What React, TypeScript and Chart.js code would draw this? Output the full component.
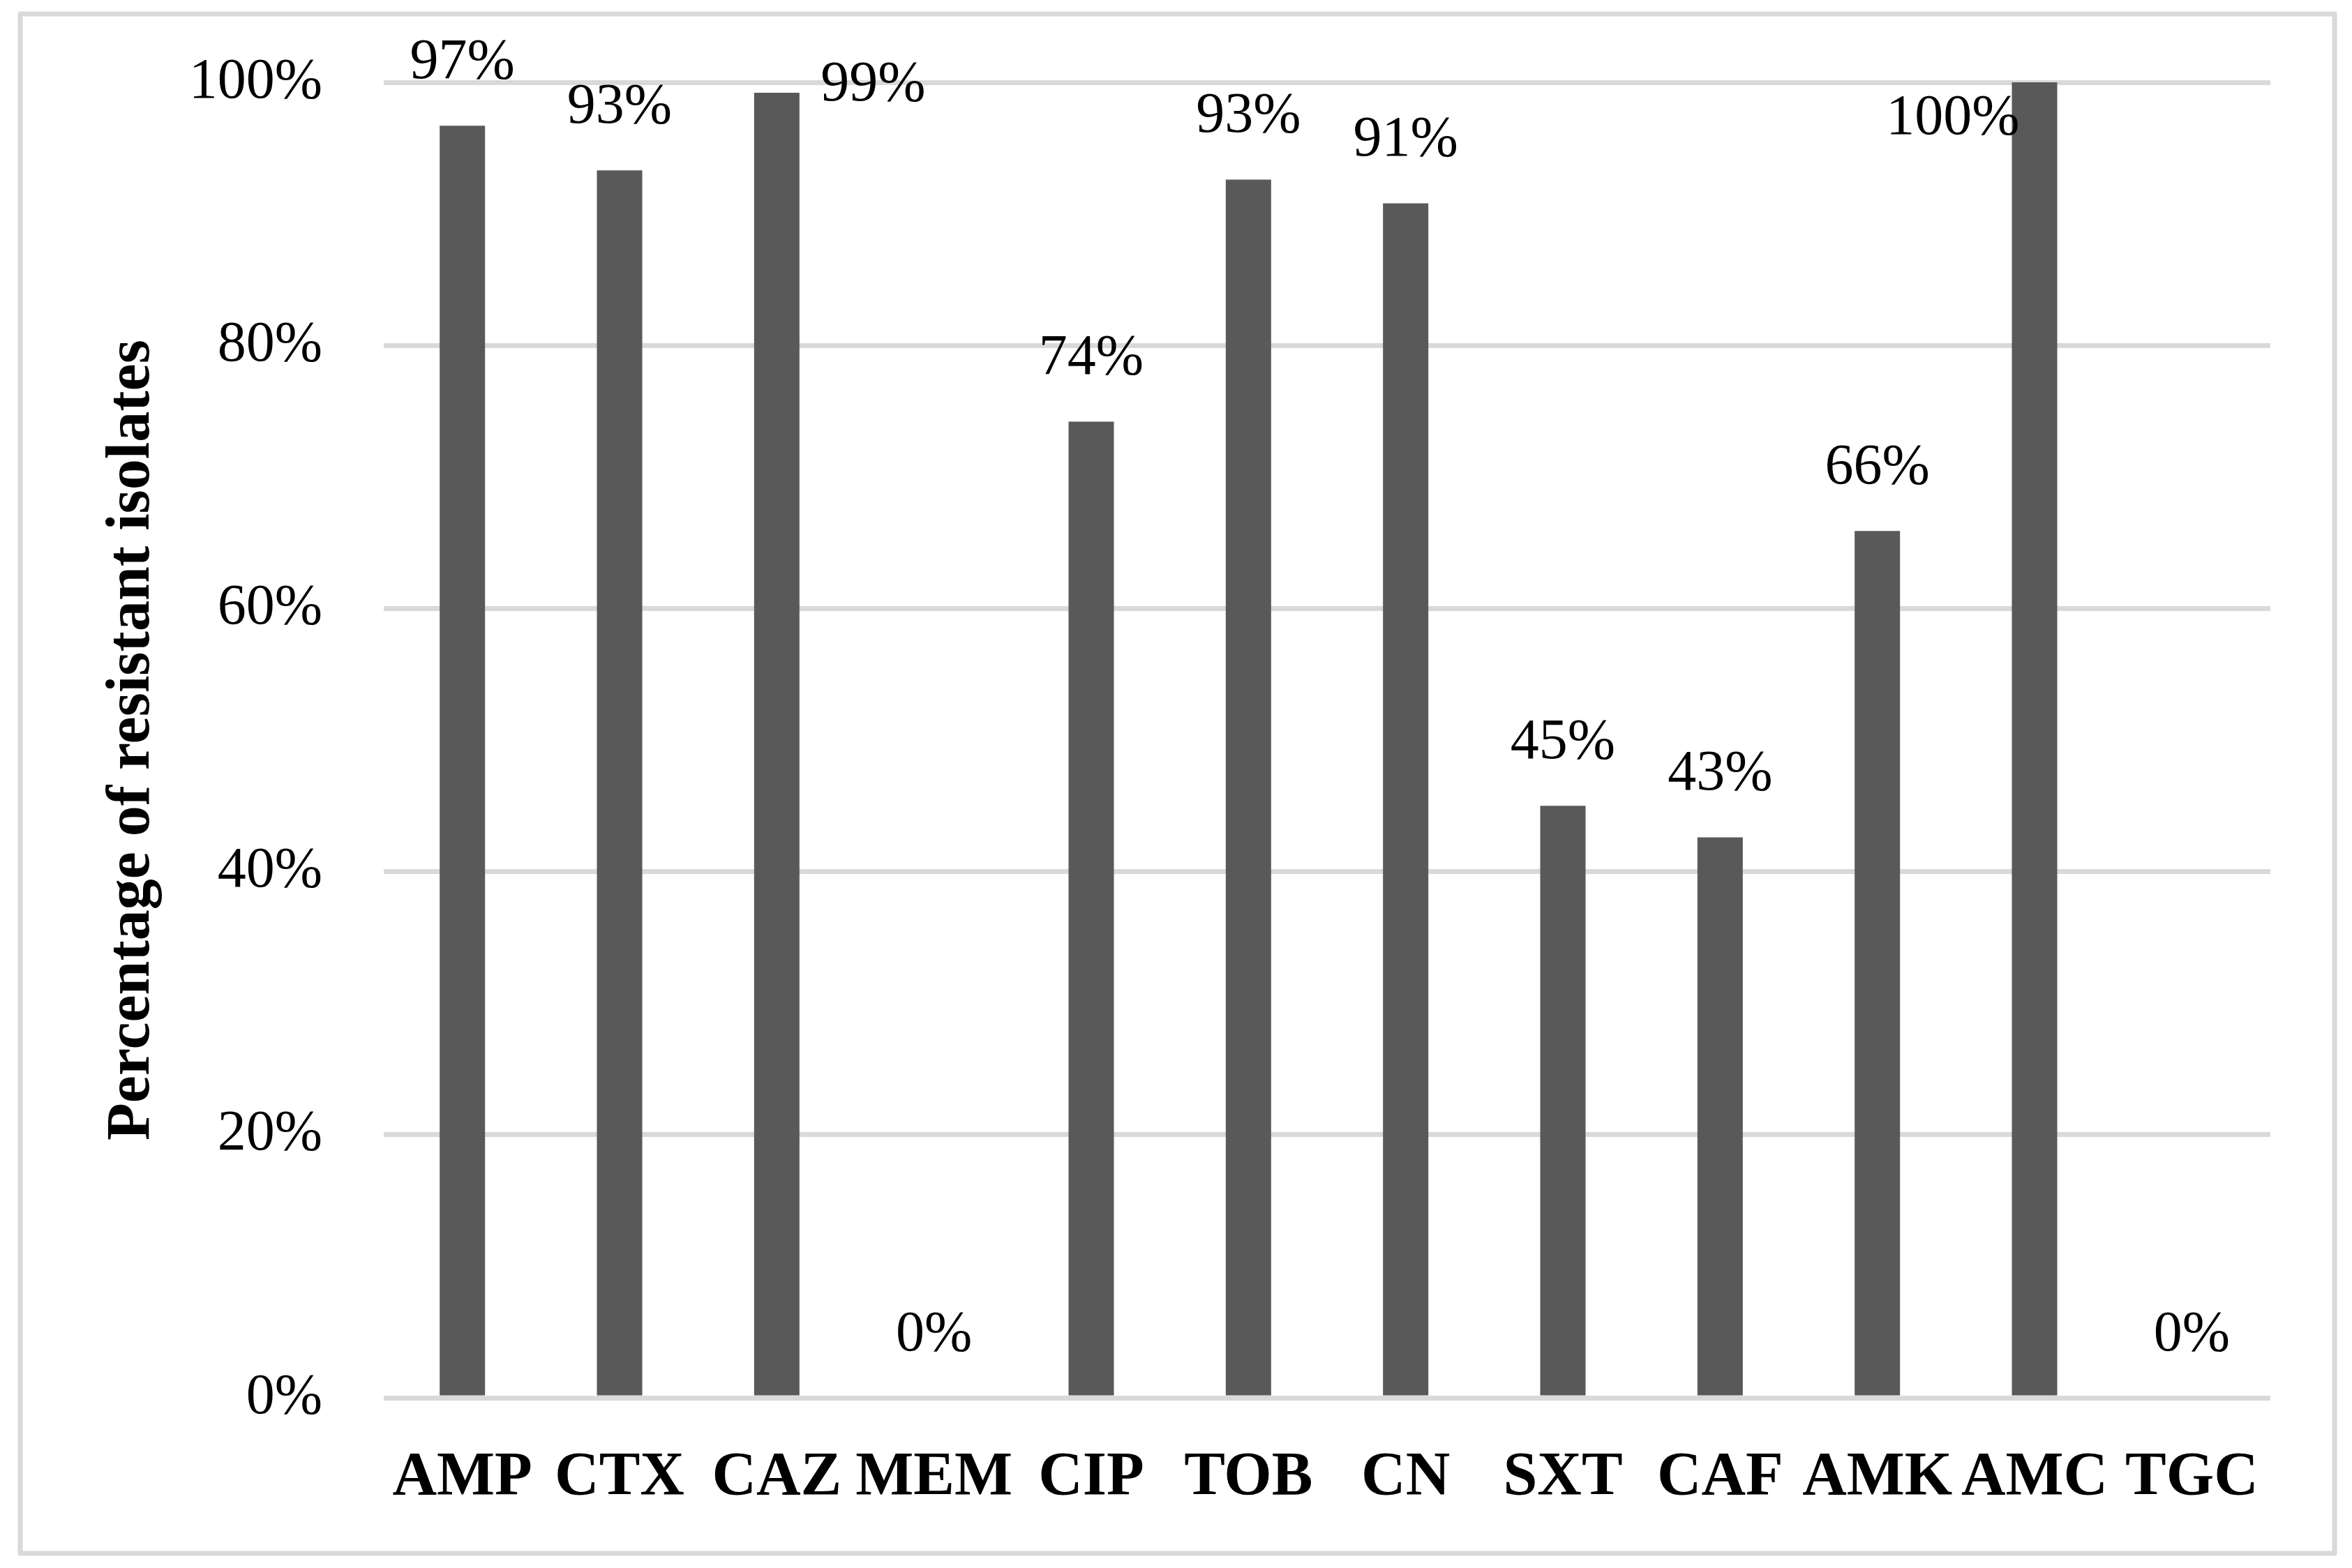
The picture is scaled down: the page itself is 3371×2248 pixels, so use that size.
import React, { useEffect, useRef } from "react";
import { Chart, registerables } from "chart.js";

Chart.register(...registerables);

const categories = ["AMP", "CTX", "CAZ", "MEM", "CIP", "TOB", "CN", "SXT", "CAF", "AMK", "AMC", "TGC"];
const resistantPct = [96.7, 93.3, 99.2, 0, 74.2, 92.6, 90.8, 45.0, 42.6, 65.9, 100, 0];
const yTickValues = [0, 20, 40, 60, 80, 100];
const yAxisTitle = "Percentage of resistant isolates";

const W = 3371;
const H = 2248;
const FONT = "'Liberation Serif', 'Times New Roman', serif";

// label nudges (px) for labels that are not placed straight above their bar
const labelNudge: Record<string, { dx: number; dy: number }> = {
  CAZ: { dx: 138, dy: 79 },
  AMC: { dx: -117, dy: 142 },
};

const framePlugin = {
  id: "frame",
  beforeDraw(chart: any) {
    const ctx = chart.ctx;
    ctx.save();
    ctx.fillStyle = "#ffffff";
    ctx.fillRect(0, 0, chart.width, chart.height);
    ctx.strokeStyle = "#d9d9d9";
    ctx.lineWidth = 7;
    ctx.lineJoin = "round";
    ctx.strokeRect(29, 20, chart.width - 29 - 25, chart.height - 20 - 21);
    ctx.restore();
  },
};

const valueLabelPlugin = {
  id: "valueLabels",
  afterDatasetsDraw(chart: any) {
    const ctx = chart.ctx;
    const meta = chart.getDatasetMeta(0);
    const data = chart.data.datasets[0].data as number[];
    ctx.save();
    ctx.font = `82px ${FONT}`;
    ctx.fillStyle = "#000000";
    ctx.textAlign = "center";
    ctx.textBaseline = "middle";
    meta.data.forEach((bar: any, i: number) => {
      const cat = chart.data.labels[i];
      const n = labelNudge[cat] || { dx: 0, dy: 0 };
      const x = bar.x + n.dx;
      const y = bar.y - 90 + n.dy;
      ctx.fillText(`${Math.round(data[i])}%`, x, y);
    });
    ctx.restore();
  },
};

export default function App() {
  const ref = useRef<HTMLCanvasElement | null>(null);

  useEffect(() => {
    if (!ref.current) return;
    const chart = new Chart(ref.current, {
      type: "bar",
      data: {
        labels: categories,
        datasets: [
          {
            data: resistantPct,
            backgroundColor: "#595959",
            borderWidth: 0,
            barPercentage: 0.2885,
            categoryPercentage: 1,
          },
        ],
      },
      options: {
        responsive: false,
        animation: false,
        devicePixelRatio: 1,
        layout: { padding: { left: 100, right: 117, top: 118, bottom: 100 } },
        plugins: {
          legend: { display: false },
          tooltip: { enabled: false },
        },
        scales: {
          x: {
            grid: { display: false, drawTicks: false },
            border: { display: false },
            ticks: {
              color: "#000000",
              font: { family: FONT, size: 88, weight: "bold" },
              padding: 62,
              maxRotation: 0,
              autoSkip: false,
            },
            afterFit(scale: any) {
              scale.height = H - 2004 - 100;
              scale.paddingLeft = 0;
              scale.paddingRight = 0;
            },
          },
          y: {
            min: 0,
            max: 100,
            afterBuildTicks(scale: any) {
              scale.ticks = yTickValues.map((v) => ({ value: v }));
            },
            grid: { color: "#d9d9d9", lineWidth: 7, drawTicks: false },
            border: { display: false },
            ticks: {
              color: "#000000",
              font: { family: FONT, size: 82 },
              padding: 88,
              callback: (v: any) => `${v}%`,
            },
            title: {
              display: true,
              text: yAxisTitle,
              color: "#000000",
              font: { family: FONT, size: 88, weight: "bold" },
              padding: { top: 37, bottom: 0 },
            },
            afterFit(scale: any) {
              scale.width = 450;
              scale.paddingTop = 0;
              scale.paddingBottom = 0;
            },
          },
        },
      },
      plugins: [framePlugin, valueLabelPlugin],
    });
    return () => chart.destroy();
  }, []);

  return (
    <div style={{ position: "absolute", left: 0, top: 0, width: W, height: H, background: "#fff" }}>
      <canvas ref={ref} width={W} height={H} style={{ display: "block", width: W, height: H }} />
    </div>
  );
}
